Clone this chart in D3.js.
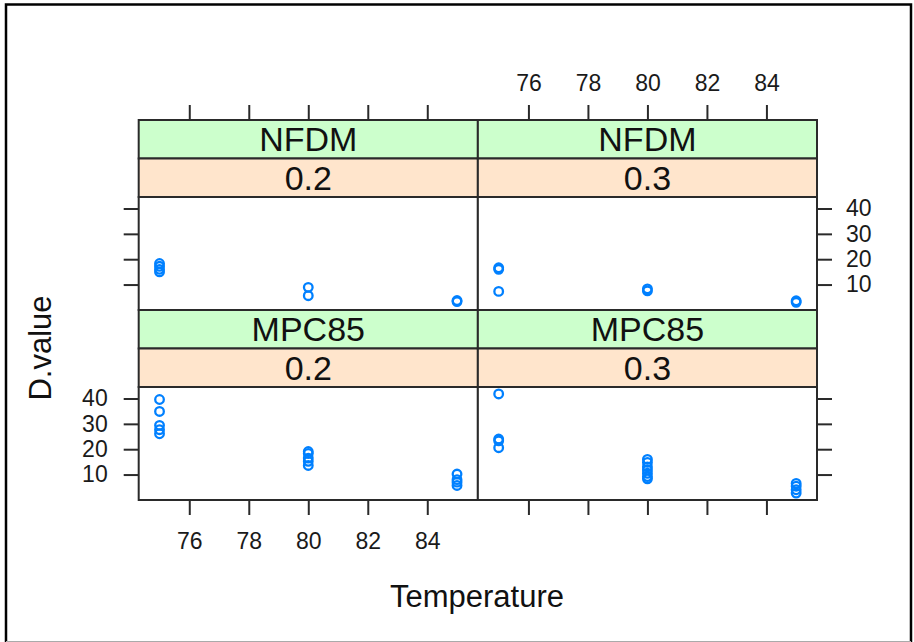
<!DOCTYPE html>
<html>
<head>
<meta charset="utf-8">
<script src="https://cdn.jsdelivr.net/npm/d3@7"></script>
<style>
  body { margin: 0; background: #fff; }
  text { font-family: "Liberation Sans", Arial, sans-serif; }
</style>
</head>
<body>
<div id="chart"></div>
<script>
// ---- data ----
const formulations = ["NFDM", "MPC85"];   // panel rows, top to bottom
const awLevels = ["0.2", "0.3"];          // panel columns, left to right
const temperatures = [75, 80, 85];
const xTicks = [76, 78, 80, 82, 84];
const yTicks = [10, 20, 30, 40];

// D.value readings at each temperature (75, 80, 85) per panel
const nfdm02 = [[18.3, 17.2, 16.0, 15.0], [8.9, 5.6], [3.3, 3.7]];
const nfdm03 = [[16.6, 16.0, 7.3], [8.3, 7.5], [3.6, 3.0]];
const mpc02 = [[39.6, 34.9, 29.4, 27.7, 26.1], [19.1, 18.3, 16.5, 15.2, 13.6], [10.2, 8.0, 7.0, 5.7]];
const mpc03 = [[41.8, 24.0, 23.3, 20.6], [16.0, 14.8, 13.0, 11.8, 10.5, 9.2, 8.3], [6.5, 5.4, 4.0, 2.7]];

const panelData = {
  "NFDM|0.2": nfdm02, "NFDM|0.3": nfdm03,
  "MPC85|0.2": mpc02, "MPC85|0.3": mpc03
};

// flatten into one row per point
const points = [];
formulations.forEach((f, r) => awLevels.forEach((a, c) => {
  panelData[f + "|" + a].forEach((vals, i) => vals.forEach(v => {
    points.push({ row: r, col: c, temp: temperatures[i], value: v });
  }));
}));

// ---- layout ----
const width = 914, height = 642;
const plotLeft = 138.7, plotRight = 817, plotTop = 120, rowH = 190, stripH = 38.5;
const colW = (plotRight - plotLeft) / 2;
const lineCol = "#2a2a2a";

const svg = d3.select("#chart").append("svg")
  .attr("width", width)
  .attr("height", height);

svg.append("rect").attr("width", width).attr("height", height).attr("fill", "#fff");

// outer frame of the picture
svg.append("path")
  .attr("d", `M6,${height} V4.5 H911 V${height}`)
  .attr("fill", "none").attr("stroke", "#000").attr("stroke-width", 2.5);
svg.append("line")
  .attr("x1", 6).attr("x2", 911).attr("y1", height - 0.5).attr("y2", height - 0.5)
  .attr("stroke", "#aaa").attr("stroke-width", 1);

// lattice pads the data range by 7% on each side
const xPad = 0.07 * (d3.max(temperatures) - d3.min(temperatures));
const xDomain = [d3.min(temperatures) - xPad, d3.max(temperatures) + xPad];
const yExt = d3.extent(points, d => d.value);
const yPad = 0.07 * (yExt[1] - yExt[0]);
const yDomain = [yExt[0] - yPad, yExt[1] + yPad];

const xScale = c => d3.scaleLinear().domain(xDomain).range([plotLeft + c * colW, plotLeft + (c + 1) * colW]);
const panelTop = r => plotTop + r * rowH + 2 * stripH;
const panelBottom = r => plotTop + (r + 1) * rowH;
const yScale = r => d3.scaleLinear().domain(yDomain).range([panelBottom(r), panelTop(r)]);

function styleAxis(g) {
  g.select(".domain").remove();
  g.attr("color", lineCol);
  g.selectAll(".tick line").attr("stroke-width", 2);
  g.selectAll(".tick text")
    .attr("font-size", 23)
    .attr("font-family", "Liberation Sans, Arial, sans-serif")
    .attr("fill", "#1a1a1a");
}

formulations.forEach((f, r) => awLevels.forEach((a, c) => {
  const x = xScale(c), y = yScale(r);
  const x0 = plotLeft + c * colW, y0 = plotTop + r * rowH;
  const g = svg.append("g");

  // strips: formulation (green) above water activity (orange)
  [[f, "#ccffcc"], [a, "#ffe5cc"]].forEach(([lab, fill], k) => {
    g.append("rect")
      .attr("x", x0).attr("y", y0 + k * stripH)
      .attr("width", colW).attr("height", stripH)
      .attr("fill", fill).attr("stroke", lineCol).attr("stroke-width", 2);
    g.append("text")
      .attr("x", x0 + colW / 2).attr("y", y0 + k * stripH + stripH / 2)
      .attr("dy", "0.36em")
      .attr("text-anchor", "middle")
      .attr("font-size", 34)
      .attr("fill", "#111")
      .text(lab);
  });

  // panel
  g.append("rect")
    .attr("x", x0).attr("y", panelTop(r))
    .attr("width", colW).attr("height", panelBottom(r) - panelTop(r))
    .attr("fill", "#fff").attr("stroke", lineCol).attr("stroke-width", 2);

  g.selectAll("circle")
    .data(points.filter(d => d.row === r && d.col === c))
    .join("circle")
    .attr("cx", d => x(d.temp))
    .attr("cy", d => y(d.value))
    .attr("r", 4.3)
    .attr("fill", "none")
    .attr("stroke", "#0080ff")
    .attr("stroke-width", 2.3);

  // axes alternate labels like lattice does
  if (r === 0) {
    const ax = d3.axisTop(x).tickValues(xTicks).tickSize(15).tickPadding(14);
    if (c === 0) ax.tickFormat("");
    svg.append("g").attr("transform", `translate(0,${plotTop})`).call(ax).call(styleAxis);
  }
  if (r === formulations.length - 1) {
    const ax = d3.axisBottom(x).tickValues(xTicks).tickSize(15).tickPadding(18);
    if (c === 1) ax.tickFormat("");
    svg.append("g").attr("transform", `translate(0,${panelBottom(r)})`).call(ax).call(styleAxis);
  }
  if (c === 0) {
    const ax = d3.axisLeft(y).tickValues(yTicks).tickSize(15).tickPadding(16);
    if (r === 0) ax.tickFormat("");
    svg.append("g").attr("transform", `translate(${plotLeft},0)`).call(ax).call(styleAxis);
  }
  if (c === awLevels.length - 1) {
    const ax = d3.axisRight(y).tickValues(yTicks).tickSize(15).tickPadding(14);
    if (r === 1) ax.tickFormat("");
    svg.append("g").attr("transform", `translate(${plotRight},0)`).call(ax).call(styleAxis);
  }
}));

// axis titles
svg.append("text")
  .attr("x", 477).attr("y", 607)
  .attr("text-anchor", "middle")
  .attr("font-size", 31)
  .attr("fill", "#111")
  .text("Temperature");

svg.append("text")
  .attr("transform", "translate(51,348) rotate(-90)")
  .attr("text-anchor", "middle")
  .attr("font-size", 31)
  .attr("fill", "#111")
  .text("D.value");
</script>
</body>
</html>
